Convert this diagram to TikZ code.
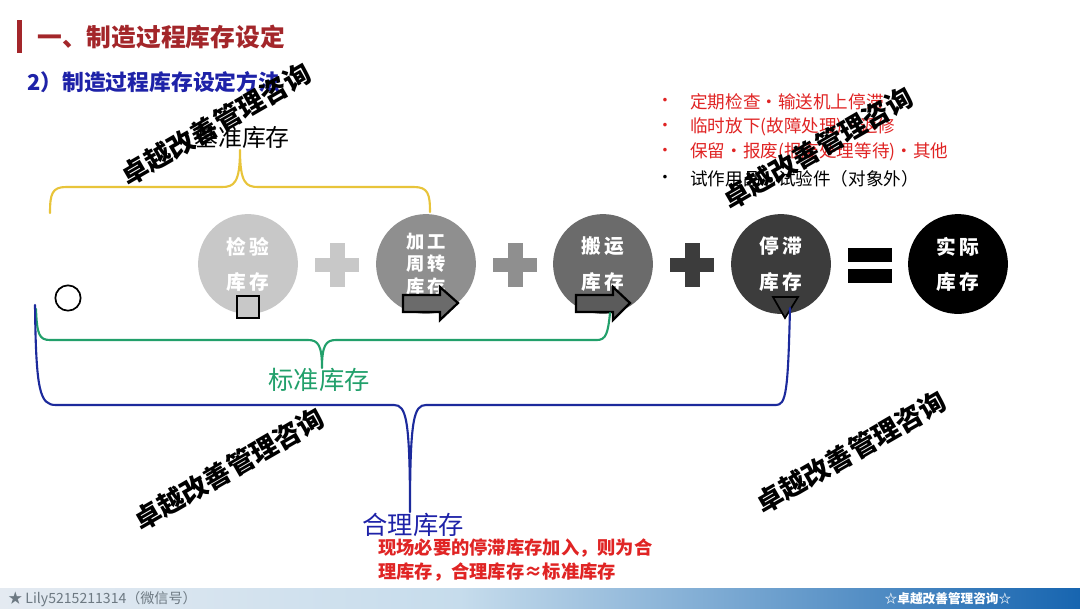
\documentclass[tikz,border=0pt]{standalone}
\usepackage{fontspec}
\setmainfont{Noto Sans CJK SC}
\usetikzlibrary{calc}
\definecolor{titred}{HTML}{A3262A}
\definecolor{subblue}{HTML}{1E22A8}
\definecolor{txtred}{HTML}{E02424}
\definecolor{brYellow}{HTML}{E8C43A}
\definecolor{brGreen}{HTML}{22A06B}
\definecolor{brBlue}{HTML}{1C2A9C}
\definecolor{cA}{HTML}{C8C8C8}
\definecolor{cB}{HTML}{8F8F8F}
\definecolor{cC}{HTML}{6B6B6B}
\definecolor{cD}{HTML}{3C3C3C}
\definecolor{barL}{HTML}{E4EAF1}
\definecolor{barM}{HTML}{C6DCEC}
\definecolor{barR}{HTML}{1765B0}
\newcommand{\fs}[1]{\fontsize{#1pt}{#1pt}\selectfont}
\tikzset{
  inv/.style={circle, minimum size=71pt, inner sep=0pt, text=white, font=\fs{14}\bfseries, align=center},
  wmark/.style={font=\fs{19}\bfseries, text=black, rotate=30, inner sep=0pt},
  lbl/.style={inner sep=0pt, font=\fs{18}},
  listitem/.style={anchor=west, inner sep=0pt, font=\fs{12.5}, text=txtred},
  bullet/.style={anchor=center, inner sep=0pt, font=\fs{12}},
  brace/.style={line width=1.5pt, line cap=round, line join=round},
  symb/.style={draw=black, line width=1.6pt, line join=miter},
}
\begin{document}
\begin{tikzpicture}[x=0.025cm, y=-0.025cm]
\useasboundingbox (0,0) rectangle (1080,608);
\fill[white] (0,0) rectangle (1080,608);

% title
\fill[titred] (17,20) rectangle (22,53);
\node[anchor=west, inner sep=0pt, text=titred, font=\fs{17.6}\bfseries] (title) at (37,37) {一、制造过程库存设定};
\node[anchor=west, inner sep=0pt, text=subblue, font=\fs{15.5}\bfseries] (subtitle) at (27,82) {2）制造过程库存设定方法};

% circles
\node[inv, fill=cA] (c1) at (248,264) {检\,验\\[11pt]库\,存};
\node[inv, fill=cB, font=\fs{13}\bfseries] (c2) at (426,264) {加\,工\\[3pt]周\,转\\[3pt]库\,存};
\node[inv, fill=cC] (c3) at (603,264) {搬\,运\\[11pt]库\,存};
\node[inv, fill=cD] (c4) at (781,264) {停\,滞\\[11pt]库\,存};
\node[inv, fill=black] (c5) at (958,264) {实\,际\\[11pt]库\,存};

% plus signs
\foreach \px/\col/\nm in {337/cA/p1, 515/cB/p2, 692/cD/p3}{
  \fill[\col] (\px-22,258) rectangle (\px+22,272);
  \fill[\col] (\px-7.5,243) rectangle (\px+7.5,287);
  \coordinate (\nm) at (\px,265);
}
% equals
\fill[black] (848,248) rectangle (892,262);
\fill[black] (848,269) rectangle (892,283);
\coordinate (eq) at (870,265);

% symbols
\node[circle, draw=black, line width=1.2pt, fill=white, minimum size=18pt, inner sep=0pt] (sym0) at (68,298) {};
\node[draw=black, line width=1.2pt, fill=cA, minimum size=16pt, inner sep=0pt] (sym1) at (248,307) {};
\draw[symb, fill=cC] (403,295) -- (440,295) -- (440,287) -- (458,303) -- (440,320) -- (440,312) -- (403,312) -- cycle;
\draw[symb, fill=cC!85!black] (576,295) -- (613,295) -- (613,287) -- (630,303) -- (613,320) -- (613,312) -- (576,312) -- cycle;
\draw[black, line width=1.2pt, fill=cD, line join=miter] (773,297) -- (798,297) -- (785,318) -- cycle;
\coordinate (arr2) at (610,313);
\coordinate (tri) at (790,308);

% labels
\node[lbl, text=black, font=\fs{17}] (jizhun) at (242,137) {基准库存};
\node[lbl, text=brGreen] (biaozhun) at (319,380) {标准库存};
\node[lbl, text=subblue] (heli) at (413,525) {合理库存};

% yellow brace
\draw[brace, brYellow] (50,213) .. controls (50,194) and (52,187) .. (66,187) -- (222,187)
  .. controls (234,187) and (240,183) .. (240,150)
  .. controls (240,183) and (246,187) .. (258,187) -- (414,187)
  .. controls (428,187) and (430,194) .. (430,212);
% green brace
\draw[brace, brGreen] (36,309) .. controls (37,334) and (39,340) .. (50,340) -- (308,340)
  .. controls (318,340) and (322,345) .. (322,368)
  .. controls (322,345) and (326,340) .. (336,340) -- (597,340)
  .. controls (606,340) and (608,333) .. (arr2);
% blue brace
\draw[brace, brBlue] (35,305) .. controls (36,392) and (40,405) .. (56,405) -- (394,405)
  .. controls (406,405) and (410,418) .. (410,512)
  .. controls (410,418) and (414,405) .. (426,405) -- (776,405)
  .. controls (786,405) and (788,392) .. (tri);

% right list
\foreach \yy/\tx/\cl in {102/定期检查・输送机上停滞/txtred, 127/临时放下(故障处理)・返修/txtred, 152/保留・报废(报废处理等待)・其他/txtred, 179/试作用品・试验件（对象外）/black}{
  \node[bullet, text=\cl] at (665,\yy) {・};
  \node[listitem, text=\cl] at (690,\yy) {\tx};
}

% red note
\node[anchor=north west, inner sep=0pt, text=txtred, font=\fs{13}\bfseries, align=left] (note) at (378,538) {现场必要的停滞库存加入，则为合\\[3pt]理库存，合理库存≈标准库存};

% bottom bar
\shade[left color=barL, right color=barM] (0,588) rectangle (460,608);
\shade[left color=barM, right color=barR] (460,588) rectangle (1080,608);
\node[anchor=west, inner sep=0pt, text=black!45!barM, font=\fs{10}] (foot1) at (8,599) {★ Lily5215211314（微信号）};
\node[inner sep=0pt, text=white, font=\fs{9}\bfseries] (foot2) at (948,599) {☆卓越改善管理咨询☆};

% watermarks
\node[wmark] (wm1) at (216,124) {卓越改善管理咨询};
\node[wmark] (wm2) at (818,148) {卓越改善管理咨询};
\node[wmark] (wm3) at (229,469) {卓越改善管理咨询};
\node[wmark] (wm4) at (851,452) {卓越改善管理咨询};
\end{tikzpicture}
\end{document}
